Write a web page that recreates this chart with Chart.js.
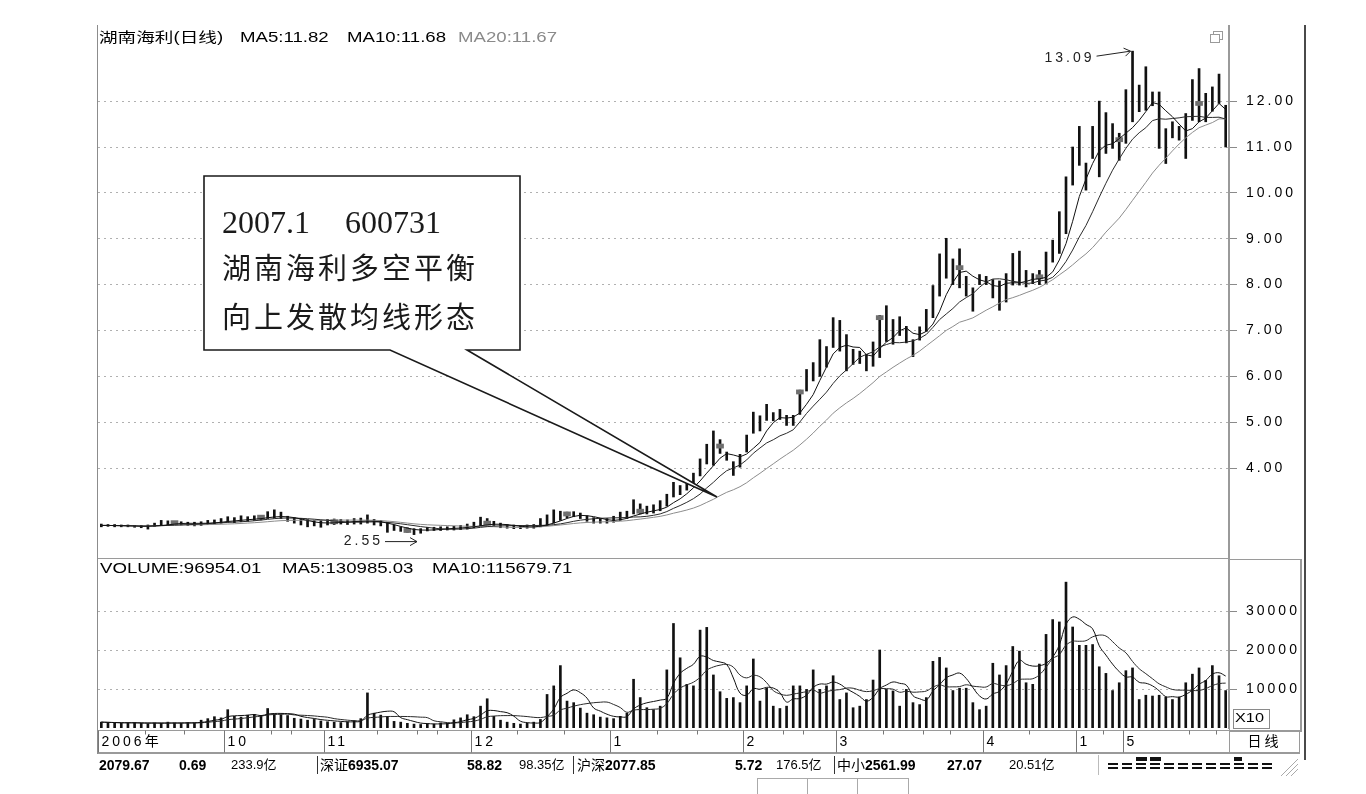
<!DOCTYPE html>
<html lang="zh-CN">
<head>
<meta charset="utf-8">
<title>湖南海利(日线)</title>
<script src="https://cdn.jsdelivr.net/npm/chart.js@4.4.1/dist/chart.umd.min.js"></script>
<style>
  html, body { margin: 0; padding: 0; background: #fff; }
  body {
    width: 1366px; height: 794px; position: relative; overflow: hidden;
    font-family: "Liberation Sans", Arial, "Noto Sans CJK SC", sans-serif; color: #000;
  }
  .box { position: absolute; }
  .txt {
    position: absolute; font-size: 14px; line-height: 16px; white-space: pre;
    transform: scaleX(1.33); transform-origin: left center;
  }
  .line { position: absolute; background: #9a9a9a; }
  .callout-text { position: absolute; white-space: pre; color: #1a1a1a; }
  .st { position: absolute; top: 757px; font-size: 14px; line-height: 16px; white-space: pre; }
  .st b { font-weight: bold; }
</style>
</head>
<body>

<div class="box" style="left:98px; top:25px; width:1207px; height:533px;"><canvas id="priceChart"></canvas></div>
<div class="box" style="left:98px; top:558px; width:1207px; height:200px;"><canvas id="volChart"></canvas></div>

<!-- frame -->
<div class="line" style="left:97px; top:25px; width:1px; height:729px; background:#8c8c8c;"></div>
<div class="line" style="left:98px; top:558px; width:1131px; height:1px;"></div>
<div class="line" style="left:1304px; top:25px; width:2px; height:735px; background:#4a4a4a;"></div>
<div class="box" style="left:1229px; top:559px; width:70px; height:171px; border:1px solid #9a9a9a; border-right:2px solid #9a9a9a;"></div>
<div class="box" style="left:1233px; top:709px; width:35px; height:18px; border:1px solid #8a8a8a;"></div>
<div class="txt" style="left:1235px; top:710px; font-size:13px; transform:scaleX(1.25);">X10</div>

<!-- small window icon -->
<div class="box" style="left:1213px; top:31px; width:8px; height:7px; border:1px solid #9a9a9a;"></div>
<div class="box" style="left:1210px; top:34px; width:8px; height:7px; border:1px solid #9a9a9a; background:#fff;"></div>

<!-- titles -->
<div class="txt" style="left:99px; top:29px;">湖南海利(日线)</div>
<div class="txt" style="left:240px; top:29px;">MA5:11.82</div>
<div class="txt" style="left:347px; top:29px;">MA10:11.68</div>
<div class="txt" style="left:458px; top:29px; color:#8a8a8a;">MA20:11.67</div>

<div class="txt" style="left:100px; top:560px;">VOLUME:96954.01</div>
<div class="txt" style="left:282px; top:560px;">MA5:130985.03</div>
<div class="txt" style="left:432px; top:560px;">MA10:115679.71</div>

<!-- callout -->
<svg class="box" style="left:0; top:0;" width="1366" height="794">
  <path d="M390,350 L204,350 L204,176 L520,176 L520,350 L467,350 L717,497 Z"
        fill="#fff" stroke="#1a1a1a" stroke-width="1.6" stroke-linejoin="miter"/>
</svg>
<div class="callout-text" style="left:222px; top:202px; font:32px/40px 'Liberation Serif', serif;">2007.1</div>
<div class="callout-text" style="left:345px; top:202px; font:32px/40px 'Liberation Serif', serif;">600731</div>
<div class="callout-text" style="left:222px; top:247px; font:29px/38px 'Noto Sans CJK SC', sans-serif; letter-spacing:3px;">湖南海利多空平衡</div>
<div class="callout-text" style="left:222px; top:296px; font:29px/38px 'Noto Sans CJK SC', sans-serif; letter-spacing:3px;">向上发散均线形态</div>

<!-- status bar -->
<div class="line" style="left:98px; top:753px; width:1202px; height:1px;"></div>
<div class="st" style="left:99px;"><b>2079.67</b></div>
<div class="st" style="left:179px;"><b>0.69</b></div>
<div class="st" style="left:231px; font-size:13px;">233.9亿</div>
<div class="line" style="left:317px; top:756px; width:1px; height:18px; background:#333;"></div>
<div class="st" style="left:320px;">深证<b>6935.07</b></div>
<div class="st" style="left:467px;"><b>58.82</b></div>
<div class="st" style="left:519px; font-size:13px;">98.35亿</div>
<div class="line" style="left:573px; top:756px; width:1px; height:18px; background:#333;"></div>
<div class="st" style="left:577px;">沪深<b>2077.85</b></div>
<div class="st" style="left:735px;"><b>5.72</b></div>
<div class="st" style="left:776px; font-size:13px;">176.5亿</div>
<div class="line" style="left:834px; top:756px; width:1px; height:18px; background:#333;"></div>
<div class="st" style="left:837px;">中小<b>2561.99</b></div>
<div class="st" style="left:947px;"><b>27.07</b></div>
<div class="st" style="left:1009px; font-size:13px;">20.51亿</div>
<div class="line" style="left:1098px; top:755px; width:1px; height:20px; background:#bbb;"></div>
<svg class="box" style="left:1100px; top:754px;" width="200" height="24" id="blocks"></svg>
<div class="box" style="left:757px; top:778px; width:150px; height:16px; border:1px solid #aaa; border-bottom:none;"></div>
<div class="line" style="left:807px; top:778px; width:1px; height:16px; background:#aaa;"></div>
<div class="line" style="left:857px; top:778px; width:1px; height:16px; background:#aaa;"></div>

<script>
// 湖南海利 600731 daily bars, Sep 2006 - May 2007
const highs = [
  2.78, 2.77, 2.77, 2.76, 2.76, 2.75, 2.75, 2.76, 2.80, 2.86,
  2.85, 2.84, 2.83, 2.82, 2.82, 2.83, 2.86, 2.87, 2.90, 2.94,
  2.92, 2.96, 2.94, 2.96, 2.97, 3.05, 3.09, 3.04, 2.95, 2.92,
  2.90, 2.88, 2.86, 2.86, 2.88, 2.89, 2.88, 2.87, 2.90, 2.91,
  2.98, 2.88, 2.86, 2.82, 2.76, 2.72, 2.70, 2.68, 2.68, 2.71,
  2.71, 2.72, 2.72, 2.73, 2.75, 2.78, 2.82, 2.93, 2.90, 2.84,
  2.80, 2.77, 2.76, 2.75, 2.76, 2.77, 2.90, 2.98, 3.09, 3.06,
  3.04, 3.05, 3.02, 2.96, 2.92, 2.90, 2.90, 2.95, 3.04, 3.06,
  3.31, 3.22, 3.17, 3.20, 3.29, 3.43, 3.69, 3.62, 3.73, 3.89,
  4.20, 4.52, 4.81, 4.62, 4.35, 4.14, 4.30, 4.72, 5.22, 5.14,
  5.39, 5.21, 5.28, 5.15, 5.15, 5.70, 6.15, 6.30, 6.80, 6.65,
  7.28, 7.22, 6.91, 6.59, 6.55, 6.48, 6.75, 7.33, 7.54, 7.24,
  7.30, 7.09, 6.80, 7.08, 7.46, 7.98, 8.67, 9.01, 8.56, 8.78,
  8.18, 7.93, 8.22, 8.18, 8.11, 8.08, 8.24, 8.68, 8.73, 8.31,
  8.24, 8.31, 8.71, 8.97, 9.59, 10.35, 11.00, 11.45, 10.65, 11.45,
  12.00, 11.75, 11.51, 11.30, 12.25, 13.09, 12.35, 12.75, 12.20, 12.20,
  11.40, 11.55, 11.45, 11.73, 12.47, 12.71, 12.17, 12.31, 12.59, 11.91
];
const lows = [
  2.72, 2.73, 2.72, 2.72, 2.72, 2.71, 2.70, 2.67, 2.73, 2.75,
  2.76, 2.77, 2.76, 2.75, 2.74, 2.75, 2.77, 2.78, 2.80, 2.82,
  2.81, 2.83, 2.84, 2.86, 2.87, 2.90, 2.91, 2.90, 2.84, 2.80,
  2.76, 2.72, 2.74, 2.71, 2.76, 2.77, 2.78, 2.77, 2.78, 2.78,
  2.80, 2.76, 2.74, 2.60, 2.64, 2.62, 2.60, 2.55, 2.58, 2.63,
  2.64, 2.64, 2.65, 2.65, 2.66, 2.67, 2.70, 2.74, 2.76, 2.75,
  2.70, 2.69, 2.68, 2.68, 2.69, 2.69, 2.72, 2.75, 2.80, 2.86,
  2.92, 2.94, 2.90, 2.84, 2.80, 2.80, 2.80, 2.82, 2.86, 2.90,
  3.00, 3.00, 3.00, 3.02, 3.07, 3.17, 3.37, 3.42, 3.52, 3.61,
  3.83, 4.09, 4.06, 4.32, 4.17, 3.84, 4.02, 4.35, 4.76, 4.81,
  5.04, 5.03, 5.06, 4.93, 4.93, 5.17, 5.68, 5.90, 6.00, 6.20,
  6.63, 6.55, 6.12, 6.26, 6.28, 6.12, 6.22, 6.41, 6.76, 6.70,
  6.89, 6.73, 6.43, 6.79, 6.98, 7.28, 7.75, 8.14, 8.00, 7.93,
  7.75, 7.42, 8.00, 8.00, 7.71, 7.44, 7.62, 7.99, 7.99, 7.95,
  8.02, 8.00, 8.02, 8.49, 8.68, 9.11, 10.17, 10.60, 10.06, 10.75,
  10.35, 10.86, 10.97, 10.71, 11.08, 11.55, 11.77, 11.80, 11.90, 10.97,
  10.64, 11.20, 11.15, 10.75, 11.58, 11.55, 11.55, 11.78, 11.95, 11.00
];
const closes = [
  2.75, 2.75, 2.74, 2.74, 2.73, 2.73, 2.72, 2.74, 2.77, 2.78,
  2.80, 2.81, 2.80, 2.79, 2.78, 2.80, 2.82, 2.84, 2.85, 2.87,
  2.86, 2.89, 2.90, 2.91, 2.93, 2.96, 2.97, 2.95, 2.88, 2.84,
  2.82, 2.80, 2.80, 2.78, 2.82, 2.83, 2.84, 2.83, 2.85, 2.84,
  2.86, 2.82, 2.78, 2.70, 2.68, 2.66, 2.64, 2.63, 2.64, 2.67,
  2.68, 2.69, 2.69, 2.70, 2.71, 2.74, 2.76, 2.80, 2.80, 2.78,
  2.74, 2.72, 2.71, 2.71, 2.72, 2.73, 2.80, 2.84, 2.92, 2.95,
  3.00, 3.02, 2.96, 2.88, 2.85, 2.84, 2.85, 2.88, 2.95, 3.00,
  3.10, 3.06, 3.08, 3.10, 3.15, 3.35, 3.55, 3.50, 3.65, 3.80,
  4.10, 4.40, 4.30, 4.48, 4.30, 3.95, 4.20, 4.60, 5.10, 4.95,
  5.20, 5.10, 5.15, 5.05, 5.05, 5.66, 6.05, 6.20, 6.60, 6.50,
  7.10, 6.75, 6.45, 6.40, 6.45, 6.30, 6.60, 7.28, 7.10, 6.95,
  7.05, 6.90, 6.70, 6.95, 7.30, 7.85, 8.30, 8.50, 8.30, 8.37,
  8.00, 7.75, 8.10, 8.10, 7.95, 7.90, 8.10, 8.15, 8.10, 8.10,
  8.12, 8.17, 8.30, 8.70, 9.40, 9.90, 10.60, 11.00, 10.60, 11.10,
  11.30, 11.20, 11.15, 11.16, 11.70, 11.90, 12.00, 12.10, 12.15, 11.50,
  11.20, 11.35, 11.30, 11.40, 11.75, 11.95, 11.75, 12.10, 12.20, 11.10
];
// volume in the axis unit (x10)
const volumes = [
  1500, 1400, 1300, 1200, 1300, 1400, 1200, 1100, 1300, 1200,
  1500, 1300, 1200, 1400, 1300, 2000, 2400, 2900, 2600, 4700,
  3000, 2800, 3300, 3500, 3200, 5000, 3600, 3400, 3200, 2500,
  2300, 2000, 2200, 1800, 1600, 1500, 1400, 1600, 1900, 2400,
  9000, 3800, 3300, 3000, 1700, 1500, 1200, 1000, 900, 1100,
  1000, 1300, 1200, 2100, 2600, 3400, 2900, 5600, 7500, 3000,
  2000, 1500, 1200, 1000, 1200, 1500, 2200, 8600, 10800, 16000,
  6900, 6500, 5100, 3800, 3400, 2800, 2600, 2400, 3000, 3800,
  12500, 7800, 5200, 4700, 5600, 14900, 26800, 18000, 11200, 10800,
  25100, 25800, 13600, 9300, 7600, 7800, 6500, 10800, 17700, 6900,
  10200, 5600, 5000, 5600, 10800, 10800, 9900, 14900, 9900, 10800,
  13400, 7300, 9000, 5200, 5600, 7300, 12300, 20000, 9900, 9500,
  5600, 9900, 6500, 6000, 7800, 17100, 18100, 15400, 9600, 10200,
  10200, 6500, 4700, 5600, 16600, 13600, 16000, 20900, 19700, 11600,
  11200, 16400, 24000, 27800, 27200, 37400, 25900, 21200, 21200, 21400,
  15700, 14000, 9600, 11600, 14700, 15400, 7300, 8400, 8200, 8400,
  7900, 7300, 7900, 11600, 13800, 15400, 12200, 16000, 13400, 9600
];
const markIdx = [11, 24, 35, 46, 58, 70, 81, 93, 105, 117, 129, 141, 153, 165];

const priceTicks = [4, 5, 6, 7, 8, 9, 10, 11, 12];
const volTicks = [10000, 20000, 30000];
const monthStart = [0, 19, 34, 56, 77, 97, 111, 133, 147, 154];
const monthText = ['2006年', '10', '11', '12', '1', '2', '3', '4', '1', '5'];
const weekTicks = [7, 13, 26, 29, 42, 48, 51, 63, 70, 84, 90, 103, 106, 118, 124, 128, 140, 151, 164, 168];

const labels = closes.map((_, i) => i);
const FONT = '"Liberation Sans", Arial, "Noto Sans CJK SC", sans-serif';

function movingAvg(src, n) {
    return src.map((_, i) => {
        const win = src.slice(Math.max(0, i - n + 1), i + 1);
        return win.reduce((a, b) => a + b, 0) / win.length;
    });
}

// the old screen text is drawn wide, so space the canvas letters out a bit
const spacing = {
    id: 'spacing',
    beforeDraw(chart) { chart.ctx.letterSpacing = '3px'; }
};

// 13.09 / 2.55 arrows at the highest high and lowest low
const extremes = {
    id: 'extremes',
    afterDatasetsDraw(chart) {
        const { ctx, scales: { x, y } } = chart;
        const hi = highs.indexOf(Math.max(...highs));
        const lo = lows.indexOf(Math.min(...lows));
        ctx.save();
        ctx.strokeStyle = '#222';
        ctx.fillStyle = '#222';
        ctx.lineWidth = 1;
        ctx.font = '14px ' + FONT;
        ctx.textBaseline = 'middle';

        const hx = x.getPixelForValue(hi) - 2, hy = y.getPixelForValue(highs[hi]);
        ctx.beginPath();
        ctx.moveTo(hx - 34, hy + 5);
        ctx.lineTo(hx, hy);
        ctx.moveTo(hx - 7, hy - 3);
        ctx.lineTo(hx, hy);
        ctx.lineTo(hx - 5, hy + 5);
        ctx.stroke();
        ctx.textAlign = 'right';
        ctx.fillText(highs[hi].toFixed(2), hx - 36, hy + 7);

        const lx = x.getPixelForValue(lo) + 3, ly = y.getPixelForValue(lows[lo]) + 7;
        ctx.beginPath();
        ctx.moveTo(lx - 32, ly);
        ctx.lineTo(lx, ly);
        ctx.moveTo(lx - 7, ly - 4);
        ctx.lineTo(lx, ly);
        ctx.lineTo(lx - 7, ly + 4);
        ctx.stroke();
        ctx.fillText(lows[lo].toFixed(2), lx - 34, ly);
        ctx.restore();
    }
};

// date strip under the volume pane
const dateStrip = {
    id: 'dateStrip',
    afterDraw(chart) {
        const { ctx, chartArea, scales: { x } } = chart;
        const top = chartArea.bottom + 2.5, bottom = top + 22;
        const half = (x.getPixelForValue(1) - x.getPixelForValue(0)) / 2;
        ctx.save();
        ctx.strokeStyle = '#9a9a9a';
        ctx.lineWidth = 1;
        ctx.strokeRect(0.5, top, chart.width - 6, bottom - top);
        ctx.beginPath();
        ctx.moveTo(chartArea.right + 0.5, top);
        ctx.lineTo(chartArea.right + 0.5, bottom);
        ctx.stroke();

        ctx.strokeStyle = '#777';
        weekTicks.forEach(i => {
            const px = Math.round(x.getPixelForValue(i) - half) + 0.5;
            ctx.beginPath();
            ctx.moveTo(px, top);
            ctx.lineTo(px, top + 4);
            ctx.stroke();
        });

        ctx.fillStyle = '#000';
        ctx.font = '14px ' + FONT;
        ctx.textBaseline = 'middle';
        monthStart.forEach((i, k) => {
            const px = Math.round(x.getPixelForValue(i) - half) + 0.5;
            ctx.beginPath();
            ctx.moveTo(px, top);
            ctx.lineTo(px, bottom);
            ctx.stroke();
            ctx.fillText(monthText[k], px + 3, top + 12);
        });
        ctx.textAlign = 'center';
        ctx.fillText('日线', (chartArea.right + chart.width - 5) / 2, top + 12);
        ctx.restore();
    }
};

function rightAxis(min, max, tickValues, fmt) {
    return {
        position: 'right',
        min, max,
        afterBuildTicks: axis => { axis.ticks = tickValues.map(v => ({ value: v })); },
        afterFit: axis => { axis.width = 76; axis.paddingTop = 0; axis.paddingBottom = 0; },
        border: { display: true, color: '#9a9a9a', width: 2, dash: [2, 4] },
        grid: { color: '#b0b0b0', lineWidth: 1, tickLength: 8, tickColor: '#8a8a8a', tickBorderDash: [] },
        ticks: { padding: 9, color: '#000', font: { family: FONT, size: 14 }, callback: fmt }
    };
}

const common = {
    responsive: true,
    maintainAspectRatio: false,
    animation: false,
    devicePixelRatio: 1,
    events: [],
    plugins: { legend: { display: false }, tooltip: { enabled: false } }
};

new Chart(document.getElementById('priceChart'), {
    type: 'bar',
    data: {
        labels,
        datasets: [
            { type: 'line', data: movingAvg(closes, 5), borderColor: '#111', borderWidth: 1, pointRadius: 0, tension: 0, order: 1 },
            { type: 'line', data: movingAvg(closes, 10), borderColor: '#2a2a2a', borderWidth: 1, pointRadius: 0, tension: 0, order: 2 },
            { type: 'line', data: movingAvg(closes, 20), borderColor: '#8c8c8c', borderWidth: 1, pointRadius: 0, tension: 0, order: 3 },
            { data: closes.map((c, i) => markIdx.includes(i) ? [c - 0.045, c + 0.045] : null),
              backgroundColor: '#6f6f6f', barThickness: 7, grouped: false, order: 4 },
            { data: highs.map((h, i) => [lows[i], h]),
              backgroundColor: '#111', barThickness: 2, grouped: false, order: 5 }
        ]
    },
    options: {
        ...common,
        layout: { padding: 0 },
        scales: {
            x: { display: false, offset: true },
            y: rightAxis(2.04, 13.66, priceTicks, v => v.toFixed(2))
        }
    },
    plugins: [spacing, extremes]
});

new Chart(document.getElementById('volChart'), {
    type: 'bar',
    data: {
        labels,
        datasets: [
            { type: 'line', data: movingAvg(volumes, 5), borderColor: '#111', borderWidth: 1, pointRadius: 0, tension: 0.4, order: 1 },
            { type: 'line', data: movingAvg(volumes, 10), borderColor: '#2a2a2a', borderWidth: 1, pointRadius: 0, tension: 0.4, order: 2 },
            { data: volumes, backgroundColor: '#111', barThickness: 2, grouped: false, order: 3 }
        ]
    },
    options: {
        ...common,
        layout: { padding: { top: 0, bottom: 30 } },
        scales: {
            x: { display: false, offset: true },
            y: rightAxis(0, 43590, volTicks, v => String(v))
        }
    },
    plugins: [spacing, dateStrip]
});

// activity blocks at the right of the status bar
const blocks = document.getElementById('blocks');
let svg = '';
for (let k = 0; k < 12; k++) {
    svg += `<rect x="${8 + k * 14}" y="9" width="10" height="2" fill="#111"/>`;
    svg += `<rect x="${8 + k * 14}" y="13" width="10" height="2" fill="#111"/>`;
}
svg += '<rect x="36" y="3" width="11" height="4" fill="#111"/><rect x="50" y="3" width="11" height="4" fill="#111"/>';
svg += '<rect x="134" y="3" width="8" height="4" fill="#111"/>';
svg += '<line x1="186" y1="22" x2="198" y2="10" stroke="#aaa"/><line x1="191" y1="22" x2="198" y2="15" stroke="#aaa"/><line x1="181" y1="22" x2="198" y2="5" stroke="#aaa"/>';
blocks.innerHTML = svg;
</script>
</body>
</html>
